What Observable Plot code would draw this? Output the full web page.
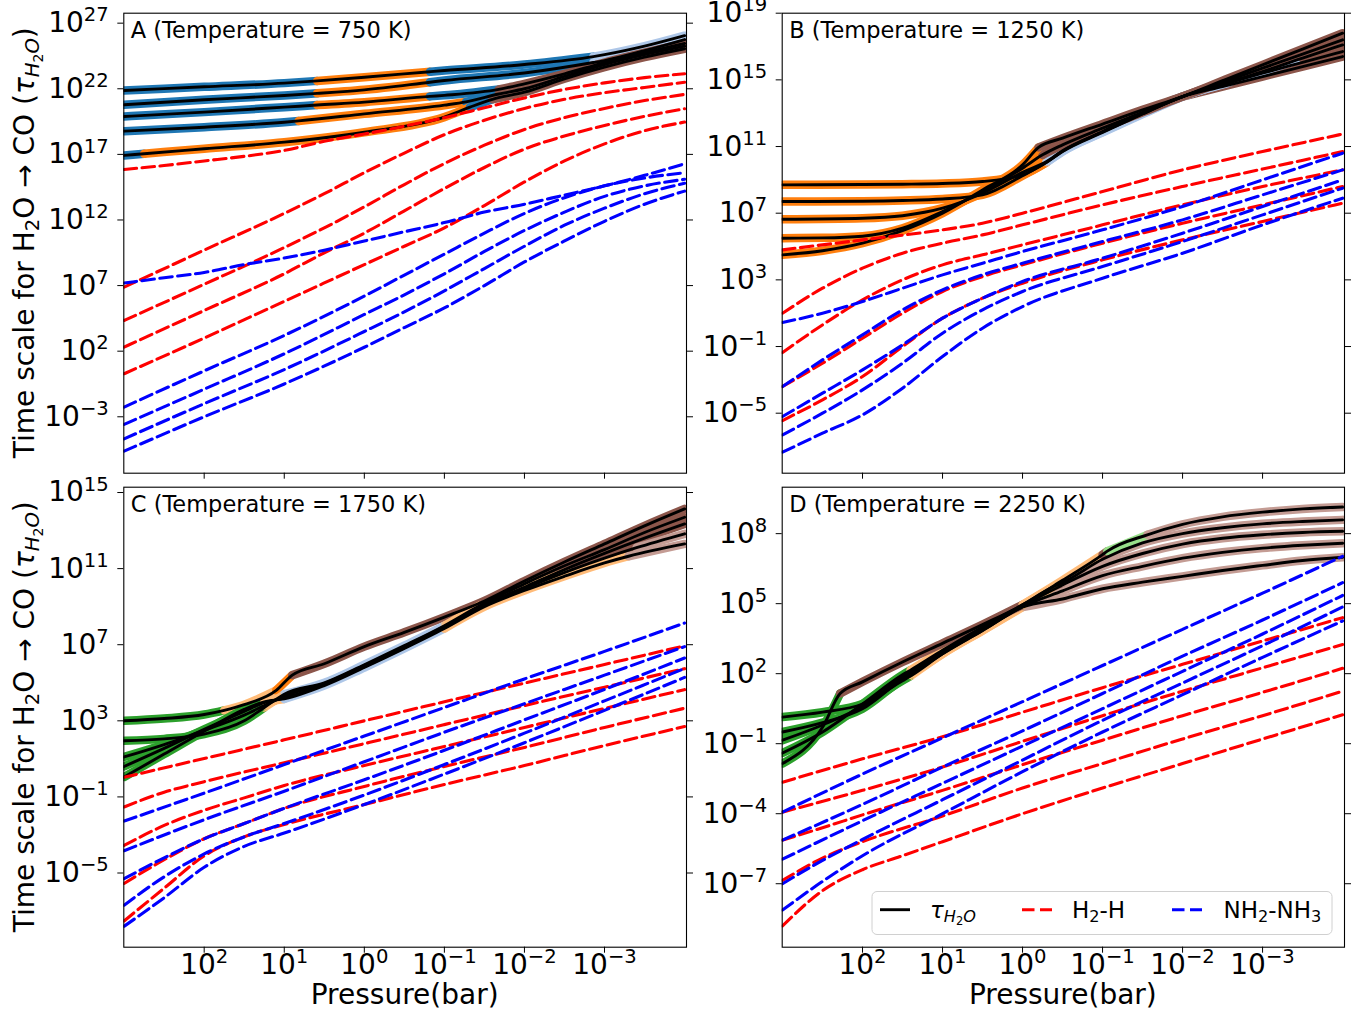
<!DOCTYPE html>
<html><head><meta charset="utf-8">
<script src="https://cdn.jsdelivr.net/npm/d3@7"></script>
<script src="https://cdn.jsdelivr.net/npm/@observablehq/plot@0.6"></script>
<style>
html,body{margin:0;padding:0;background:#fff;}
#fig{position:relative;width:1369px;height:1020px;background:#fff;overflow:hidden;font-family:"DejaVu Sans";}
#fig svg{position:absolute;}
</style></head><body><div id="fig"></div>
<script>
// ---------- shared axis data ----------
const xTickValues = [100, 10, 1, 0.1, 0.01, 0.001];
const xDomainExp = [3.004, -4.024];
const bandColors = {b:"#1f77b4", o:"#ff7f0e", lb:"#aec7e8", br:"#8c564b", pb:"#c49c94", g:"#2ca02c", lo:"#ffbb78", lg:"#98df8a"};

// ---------- Panel A (750 K): [log10 P, log10 tau, regime of following segment] ----------
const A_tau1 = [[3,21.87,"b"],[2,22.15,"b"],[1,22.43,"b"],[0.59,22.6,"o"],[0,22.88,"o"],[-0.82,23.3,"b"],[-1,23.39,"b"],[-2,23.85,"b"],[-2.86,24.45,"lb"],[-3,24.6,"lb"],[-3.5,25.25,"lb"],[-4,26.05,"lb"]];
const A_tau2 = [[3,20.78,"b"],[2,21.16,"b"],[1,21.49,"b"],[0.59,21.65,"o"],[0,21.92,"o"],[-0.82,22.5,"b"],[-1,22.63,"b"],[-2,23.2,"b"],[-2.86,24.0,"lb"],[-3,24.15,"lb"],[-3.5,24.9,"lb"],[-4,25.75,"lb"]];
const A_tau3 = [[3,19.89,"b"],[2,20.22,"b"],[1,20.6,"b"],[0.59,20.76,"o"],[0,20.98,"o"],[-0.82,21.42,"b"],[-1,21.5,"b"],[-1.68,21.95,"br"],[-2,22.38,"br"],[-2.5,23.14,"br"],[-3,24.0,"br"],[-3.5,24.75,"br"],[-4,25.45,"br"]];
const A_tau4 = [[3,18.77,"b"],[2,19.07,"b"],[1,19.45,"b"],[0.82,19.55,"o"],[0,20.09,"o"],[-1,20.75,"o"],[-1.27,21.0,"b"],[-1.68,21.6,"br"],[-2,22.0,"br"],[-2.5,22.94,"br"],[-3,23.85,"br"],[-3.5,24.6,"br"],[-4,25.25,"br"]];
const A_tau5 = [[3,16.92,"b"],[2.75,17.05,"o"],[2,17.43,"o"],[1,17.93,"o"],[0,18.69,"o"],[-1,19.84,"o"],[-1.32,20.6,"b"],[-1.6,21.2,"br"],[-2,21.74,"br"],[-2.5,22.76,"br"],[-3,23.65,"br"],[-3.5,24.41,"br"],[-4,25.05,"br"]];
const A_h1 = [[3,15.85],[2.5,16.15],[2,16.5],[1.5,16.85],[1,17.3],[0.5,18.0],[0,18.55],[-0.5,19.15],[-1,19.8],[-1.5,20.55],[-2,21.3],[-2.5,21.95],[-3,22.45],[-3.5,22.85],[-4,23.14]];
const A_h2 = [[3,6.88],[2,9.7],[1,12.5],[0.5,14.0],[0,15.6],[-0.5,17.1],[-1,18.5],[-1.5,19.6],[-2,20.5],[-2.5,21.2],[-3,21.7],[-3.5,22.1],[-4,22.5]];
const A_h3 = [[3,4.34],[2,7.1],[1,9.9],[0.5,11.4],[0,13.0],[-0.5,14.7],[-1,16.3],[-1.5,17.7],[-2,18.9],[-2.5,19.8],[-3,20.5],[-3.5,21.1],[-4,21.57]];
const A_h4 = [[3,2.31],[2,5.1],[1,7.9],[0.5,9.5],[0,11.0],[-0.5,12.7],[-1,14.4],[-1.5,16.0],[-2,17.4],[-2.5,18.4],[-3,19.2],[-3.5,19.9],[-4,20.48]];
const A_h5 = [[3,0.28],[2,3.0],[1,5.8],[0.5,7.2],[0,8.6],[-0.5,10.0],[-1,11.4],[-1.5,13.1],[-2,14.9],[-2.5,16.5],[-3,17.8],[-3.5,18.8],[-4,19.46]];
const A_n1 = [[3,7.19],[2.5,7.6],[2,8.0],[1.5,8.6],[1,9.1],[0.5,9.7],[0,10.4],[-0.5,11.1],[-1,11.8],[-1.5,12.6],[-2,13.2],[-2.5,13.9],[-3,14.6],[-3.5,15.4],[-4,16.28]];
const A_n2 = [[3,-2.26],[2,0.5],[1,3.2],[0,6.2],[-0.5,7.8],[-1,9.4],[-1.5,11.0],[-2,12.5],[-2.5,13.7],[-3,14.6],[-3.5,15.2],[-4,15.6]];
const A_n3 = [[3,-3.58],[2,-0.9],[1,1.8],[0,4.8],[-0.5,6.3],[-1,7.9],[-1.5,9.6],[-2,11.2],[-2.5,12.6],[-3,13.8],[-3.5,14.6],[-4,15.1]];
const A_n4 = [[3,-4.68],[2,-2.0],[1,0.6],[0,3.5],[-0.5,5.0],[-1,6.6],[-1.5,8.3],[-2,10.0],[-2.5,11.6],[-3,12.9],[-3.5,14.0],[-4,14.8]];
const A_n5 = [[3,-5.62],[2,-3.0],[1,-0.5],[0,2.3],[-0.5,3.8],[-1,5.3],[-1.5,7.0],[-2,8.8],[-2.5,10.4],[-3,11.9],[-3.5,13.2],[-4,14.2]];

// ---------- Panel B (1250 K) ----------
const B_tau1 = [[3,8.70,"o"],[2,8.72,"o"],[1.5,8.74,"o"],[1,8.78,"o"],[0.5,8.9,"o"],[0,9.3,"o"],[-0.3,10.05,"lb"],[-0.5,10.7,"lb"],[-1,11.85,"lb"],[-1.5,12.95,"lb"],[-2,14.0,"br"],[-2.5,14.6,"br"],[-3,15.2,"br"],[-3.5,15.8,"br"],[-4,16.4,"br"]];
const B_tau2 = [[3,7.70,"o"],[2,7.72,"o"],[1.5,7.76,"o"],[1,7.85,"o"],[0.5,8.1,"o"],[0,9.25,"o"],[-0.3,10.05,"lb"],[-0.5,10.72,"lb"],[-1,11.87,"lb"],[-1.5,12.97,"lb"],[-2,14.0,"lb"],[-2.6,14.85,"br"],[-3,15.4,"br"],[-3.5,16.05,"br"],[-4,16.7,"br"]];
const B_tau3 = [[3,6.64,"o"],[2,6.7,"o"],[1.5,6.85,"o"],[1,7.3,"o"],[0.5,8.2,"o"],[0,9.45,"o"],[-0.3,10.1,"lb"],[-0.5,10.75,"lb"],[-1,11.9,"lb"],[-1.5,13.0,"lb"],[-2,14.0,"lb"],[-2.5,14.75,"lb"],[-3,15.5,"lb"],[-3.5,16.3,"br"],[-4,17.1,"br"]];
const B_tau4 = [[3,5.5,"o"],[2.5,5.52,"o"],[2,5.62,"o"],[1.5,6.1,"o"],[1,7.1,"o"],[0.5,8.3,"o"],[0,9.7,"o"],[-0.25,10.5,"br"],[-0.5,11.1,"br"],[-1,12.1,"br"],[-1.5,13.05,"br"],[-2,14.0,"br"],[-2.5,14.85,"br"],[-3,15.7,"br"],[-3.5,16.55,"br"],[-4,17.4,"br"]];
const B_tau5 = [[3,4.5,"o"],[2.5,4.75,"o"],[2,5.2,"o"],[1.5,5.95,"o"],[1,7.0,"o"],[0.5,8.4,"o"],[0,9.9,"o"],[-0.2,10.95,"br"],[-0.5,11.5,"br"],[-1,12.35,"br"],[-1.5,13.2,"br"],[-2,14.0,"br"],[-2.5,14.95,"br"],[-3,15.9,"br"],[-3.5,16.85,"br"],[-4,17.8,"br"]];
const B_h1 = [[3,4.8],[2,5.4],[1,6.0],[0.5,6.4],[0,7.0],[-1,8.3],[-2,9.6],[-3,10.7],[-4,11.75]];
const B_h2 = [[3,1.0],[2.5,2.5],[2,3.7],[1.5,4.6],[1,5.2],[0.5,5.7],[0,6.3],[-1,7.5],[-2,8.6],[-3,9.65],[-4,10.7]];
const B_h3 = [[3,-1.36],[2.5,0.3],[2,1.8],[1.5,3.0],[1,3.9],[0.5,4.5],[0,5.1],[-1,6.3],[-2,7.5],[-3,8.6],[-4,9.6]];
const B_h4 = [[3,-3.4],[2.5,-2.0],[2,-0.5],[1.5,1.0],[1,2.3],[0.5,3.2],[0,3.9],[-1,5.2],[-2,6.4],[-3,7.5],[-4,8.6]];
const B_h5 = [[3,-5.44],[2.5,-4.2],[2,-2.8],[1.5,-1.0],[1,0.7],[0.5,1.9],[0,2.8],[-1,4.2],[-2,5.4],[-3,6.5],[-4,7.6]];
const B_n1 = [[3,0.44],[2.5,1.0],[2,1.7],[1.5,2.5],[1,3.3],[0.5,4.0],[0,4.7],[-1,6.0],[-2,7.4],[-3,9.0],[-4,10.6]];
const B_n2 = [[3,-3.4],[2.5,-1.8],[2,-0.3],[1.5,1.2],[1,2.4],[0.5,3.3],[0,4.0],[-1,5.3],[-2,6.6],[-3,8.1],[-4,9.6]];
const B_n3 = [[3,-5.2],[2.5,-3.8],[2,-2.4],[1.5,-0.9],[1,0.7],[0.5,1.9],[0,2.9],[-1,4.3],[-2,5.8],[-3,7.4],[-4,9.0]];
const B_n4 = [[3,-6.3],[2.5,-5.0],[2,-3.6],[1.5,-2.0],[1,-0.2],[0.5,1.2],[0,2.3],[-1,3.8],[-2,5.3],[-3,6.9],[-4,8.5]];
const B_n5 = [[3,-7.34],[2.5,-6.2],[2,-5.1],[1.5,-3.5],[1,-1.6],[0.5,0.1],[0,1.4],[-1,3.1],[-2,4.6],[-3,6.3],[-4,7.9]];

// ---------- Panel C (1750 K) ----------
const C_tau1 = [[3,3.0,"g"],[2.5,3.12,"g"],[2,3.33,"g"],[1.75,3.55,"lo"],[1.5,3.85,"lo"],[1.1,4.6,"o"],[0.9,5.4,"br"],[0.5,6.0,"br"],[0,6.9,"br"],[-0.5,7.65,"br"],[-1,8.45,"br"],[-1.5,9.3,"br"],[-2,10.35,"br"],[-2.5,11.35,"br"],[-3,12.3,"br"],[-3.5,13.25,"br"],[-4,14.14,"br"]];
const C_tau2 = [[3,1.95,"g"],[2.5,2.05,"g"],[2,2.3,"g"],[1.5,3.0,"g"],[1.25,3.7,"lo"],[1,4.4,"lb"],[0.5,5.0,"lb"],[0,5.95,"lb"],[-0.5,6.95,"lb"],[-1,8.0,"lo"],[-1.46,9.1,"br"],[-2,10.2,"br"],[-2.5,11.15,"br"],[-3,12.0,"br"],[-3.5,12.9,"br"],[-4,13.7,"br"]];
const C_tau3 = [[3,1.1,"g"],[2.5,1.75,"g"],[2,2.5,"g"],[1.5,3.3,"g"],[1.25,3.8,"lo"],[1,4.3,"lb"],[0.5,4.95,"lb"],[0,5.9,"lb"],[-0.5,6.9,"lb"],[-1,7.95,"lo"],[-1.5,9.1,"lo"],[-2.04,10.1,"br"],[-2.5,10.95,"br"],[-3,11.8,"br"],[-3.5,12.6,"br"],[-4,13.35,"br"]];
const C_tau4 = [[3,0.6,"g"],[2.5,1.55,"g"],[2,2.55,"g"],[1.5,3.5,"g"],[1.25,3.95,"lo"],[1,4.2,"lb"],[0.5,4.9,"lb"],[0,5.85,"lb"],[-0.5,6.85,"lb"],[-1,7.9,"lo"],[-1.5,9.05,"lo"],[-2,9.95,"lo"],[-2.63,11.0,"br"],[-3,11.55,"br"],[-3.4,12.1,"pb"],[-4,12.83,"pb"]];
const C_tau5 = [[3,0.05,"g"],[2.5,1.25,"g"],[2,2.45,"g"],[1.5,3.6,"g"],[1.25,4.0,"lo"],[1,4.15,"lb"],[0.5,4.85,"lb"],[0,5.8,"lb"],[-0.5,6.8,"lb"],[-1,7.85,"lo"],[-1.5,9.0,"lo"],[-2,9.85,"lo"],[-2.5,10.6,"lo"],[-3,11.3,"lo"],[-3.3,11.65,"pb"],[-4,12.3,"pb"]];
const C_h1 = [[3,0.03],[2,1.02],[1,2.0],[0,3.0],[-1,4.0],[-2,4.98],[-3,5.96],[-4,6.94]];
const C_h2 = [[3,-1.53],[2.5,-0.75],[2,-0.2],[1,0.8],[0,1.8],[-1,2.8],[-2,3.8],[-3,4.77],[-4,5.74]];
const C_h3 = [[3,-3.55],[2.5,-2.5],[2,-1.7],[1.5,-1.05],[1,-0.4],[0,0.65],[-1,1.65],[-2,2.65],[-3,3.65],[-4,4.64]];
const C_h4 = [[3,-5.55],[2.5,-4.3],[2,-3.2],[1.5,-2.4],[1,-1.6],[0,-0.45],[-1,0.6],[-2,1.6],[-3,2.65],[-4,3.66]];
const C_h5 = [[3,-7.52],[2.5,-5.8],[2,-4.1],[1.5,-3.1],[1,-2.45],[0,-1.4],[-1,-0.35],[-2,0.65],[-3,1.7],[-4,2.7]];
const C_n1 = [[3,-2.27],[2,-0.8],[1,0.7],[0,2.2],[-1,3.7],[-2,5.2],[-3,6.65],[-4,8.14]];
const C_n2 = [[3,-3.83],[2.5,-3.0],[2,-2.2],[1,-0.7],[0,0.85],[-1,2.4],[-2,3.9],[-3,5.4],[-4,6.9]];
const C_n3 = [[3,-5.3],[2.5,-4.2],[2,-3.2],[1.5,-2.4],[1,-1.6],[0,-0.1],[-1,1.45],[-2,3.05],[-3,4.65],[-4,6.3]];
const C_n4 = [[3,-6.69],[2.5,-5.2],[2,-4.0],[1.5,-3.1],[1,-2.4],[0,-0.9],[-1,0.7],[-2,2.35],[-3,4.05],[-4,5.75]];
const C_n5 = [[3,-7.8],[2.5,-6.3],[2,-4.7],[1.5,-3.6],[1,-2.9],[0,-1.4],[-1,0.2],[-2,1.85],[-3,3.55],[-4,5.28]];

// ---------- Panel D (2250 K) ----------
const D_tau1 = [[3,0.14,"g"],[2.5,0.35,"g"],[2,0.7,"g"],[1.5,1.7,"g"],[1.4,1.9,"lo"],[1,2.85,"lo"],[0.5,3.85,"lo"],[0,4.85,"pb"],[-0.5,5.2,"pb"],[-1,5.64,"pb"],[-1.5,5.92,"pb"],[-2,6.17,"pb"],[-2.5,6.42,"pb"],[-3,6.64,"pb"],[-3.5,6.85,"pb"],[-4,6.99,"pb"]];
const D_tau2 = [[3,-0.5,"g"],[2.5,-0.1,"g"],[2,0.5,"g"],[1.5,1.75,"g"],[1.4,1.95,"lo"],[1,2.85,"lo"],[0.5,3.85,"lo"],[0,4.87,"pb"],[-0.5,5.55,"pb"],[-1,6.2,"pb"],[-1.5,6.6,"pb"],[-2,6.95,"pb"],[-2.5,7.2,"pb"],[-3,7.38,"pb"],[-3.5,7.5,"pb"],[-4,7.59,"pb"]];
const D_tau3 = [[3,-0.85,"g"],[2.5,-0.2,"g"],[2,0.6,"g"],[1.5,1.85,"g"],[1.4,2.05,"lo"],[1,2.9,"lo"],[0.5,3.9,"lo"],[0,4.9,"pb"],[-0.5,5.8,"pb"],[-1,6.6,"pb"],[-1.5,7.15,"pb"],[-2,7.55,"pb"],[-2.5,7.8,"pb"],[-3,7.95,"pb"],[-3.5,8.05,"pb"],[-4,8.1,"pb"]];
const D_tau4 = [[3,-1.4,"g"],[2.5,-0.5,"g"],[2,0.7,"g"],[1.5,1.95,"g"],[1.4,2.15,"lo"],[1,3.0,"lo"],[0.5,4.0,"lo"],[0,4.95,"lo"],[-0.4,5.75,"br"],[-0.5,5.9,"pb"],[-1,6.9,"pb"],[-1.5,7.6,"pb"],[-2,8.0,"pb"],[-2.5,8.25,"pb"],[-3,8.42,"pb"],[-3.5,8.52,"pb"],[-4,8.59,"pb"]];
const D_tau5 = [[3,-1.85,"g"],[2.5,-0.3,"g"],[2.28,1.15,"br"],[2,1.65,"br"],[1.5,2.5,"br"],[1,3.3,"br"],[0.5,4.1,"br"],[0,4.95,"lo"],[-0.5,6.0,"lo"],[-1,7.1,"br"],[-1.06,7.25,"lg"],[-1.56,7.95,"pb"],[-2,8.4,"pb"],[-2.5,8.72,"pb"],[-3,8.92,"pb"],[-3.5,9.06,"pb"],[-4,9.14,"pb"]];
const D_h1 = [[3,-2.65],[2,-1.65],[1,-0.7],[0,0.35],[-1,1.4],[-2,2.4],[-3,3.4],[-4,4.4]];
const D_h2 = [[3,-3.93],[2,-3.0],[1,-2.0],[0,-0.9],[-1,0.2],[-2,1.25],[-3,2.25],[-4,3.25]];
const D_h3 = [[3,-5.13],[2.5,-4.6],[2,-4.05],[1,-3.0],[0,-1.9],[-1,-0.85],[-2,0.2],[-3,1.2],[-4,2.23]];
const D_h4 = [[3,-6.86],[2.5,-5.9],[2,-5.2],[1,-4.1],[0,-2.9],[-1,-1.85],[-2,-0.8],[-3,0.2],[-4,1.25]];
const D_h5 = [[3,-8.81],[2.5,-7.3],[2,-6.4],[1.5,-5.8],[1,-5.2],[0,-4.0],[-1,-2.9],[-2,-1.85],[-3,-0.8],[-4,0.24]];
const D_n1 = [[3,-3.93],[2,-2.3],[1,-0.75],[0,0.8],[-1,2.35],[-2,3.9],[-3,5.45],[-4,7.03]];
const D_n2 = [[3,-5.13],[2,-3.6],[1,-2.0],[0,-0.45],[-1,1.15],[-2,2.75],[-3,4.3],[-4,5.9]];
const D_n3 = [[3,-5.95],[2,-4.3],[1,-2.7],[0,-1.1],[-1,0.5],[-2,2.1],[-3,3.7],[-4,5.35]];
const D_n4 = [[3,-7.0],[2.5,-6.0],[2,-5.1],[1,-3.4],[0,-1.7],[-1,0],[-2,1.6],[-3,3.2],[-4,4.86]];
const D_n5 = [[3,-8.13],[2.5,-6.9],[2,-5.8],[1,-4.0],[0,-2.2],[-1,-0.5],[-2,1.1],[-3,2.7],[-4,4.26]];

// ---------- y axis settings ----------
const A_yExp = [-7.3, 27.76], A_yTicks = [-3, 2, 7, 12, 17, 22, 27];
const B_yExp = [-8.6, 19.0],  B_yTicks = [-5, -1, 3, 7, 11, 15, 19];
const C_yExp = [-8.9, 15.28], C_yTicks = [-5, -1, 3, 7, 11, 15];
const D_yExp = [-9.72, 9.99], D_yTicks = [-7, -4, -1, 2, 5, 8];

// ---------- rendering ----------
const FONT = "DejaVu Sans";
const DASH = "12.5,5.5";
const px = d => 10 ** d[0], py = d => 10 ** d[1];
const fmt = v => "10^" + Math.round(Math.log10(v));

function runsOf(curve) {
  const out = [];
  let s = 0;
  for (let i = 1; i < curve.length; i++) {
    if (i === curve.length - 1 || curve[i][2] !== curve[s][2]) {
      out.push({color: bandColors[curve[s][2]], pts: curve.slice(s, i + 1)});
      s = i;
    }
  }
  return out;
}

function rich(parent, parts, size) {
  let shift = 0;
  for (const [s, k = ""] of parts) {
    let target = 0, fs = size;
    if (k.includes("subsub")) { target = 0.34 * size; fs = 0.5 * size; }
    else if (k.includes("sub")) { target = 0.2 * size; fs = 0.7 * size; }
    const t = parent.append("tspan").text(s).attr("font-size", fs);
    if (k.includes("it")) t.attr("font-style", "italic");
    if (target !== shift) { t.attr("dy", target - shift); shift = target; }
  }
}

function makePanel(cfg) {
  const marks = [];
  for (const c of cfg.taus) for (const r of runsOf(c))
    marks.push(Plot.line(r.pts, {x: px, y: py, stroke: r.color, strokeWidth: 8.5, strokeLinecap: "round", curve: "monotone-x", clip: true}));
  for (const c of cfg.taus)
    marks.push(Plot.line(c, {x: px, y: py, stroke: "black", strokeWidth: 2.9, curve: "monotone-x", clip: true}));
  for (const c of cfg.reds)
    marks.push(Plot.line(c, {x: px, y: py, stroke: "#ff0000", strokeWidth: 3.1, strokeDasharray: DASH, curve: "monotone-x", clip: true}));
  for (const c of cfg.blues)
    marks.push(Plot.line(c, {x: px, y: py, stroke: "#0000ff", strokeWidth: 3.1, strokeDasharray: DASH, curve: "monotone-x", clip: true}));
  marks.push(Plot.frame({stroke: "black", strokeWidth: 1.1}));
  marks.push(Plot.axisX({ticks: xTickValues, tickSize: 6, tickPadding: 1, tickFormat: cfg.xLabels ? fmt : () => "", label: null}));
  marks.push(Plot.axisY({ticks: cfg.yTicks.map(e => 10 ** e), anchor: "left", tickSize: 6, tickPadding: 9, tickFormat: fmt, label: null}));
  marks.push(Plot.axisY({ticks: cfg.yTicks.map(e => 10 ** e), anchor: "right", tickSize: 6, tickFormat: () => "", label: null}));
  marks.push(Plot.text([cfg.title], {text: d => d, frameAnchor: "top-left", dx: 7, dy: 24.5, lineAnchor: "bottom", textAnchor: "start", fontSize: 22.5, fontFamily: FONT}));

  const svg = Plot.plot({
    width: cfg.width, height: cfg.height,
    marginLeft: cfg.ml, marginRight: cfg.mr, marginTop: cfg.mt, marginBottom: cfg.mb,
    x: {type: "log", domain: xDomainExp.map(e => 10 ** e)},
    y: {type: "log", domain: cfg.yExp.map(e => 10 ** e)},
    style: {fontFamily: FONT, fontSize: "28px", color: "black", background: "white", overflow: "visible"},
    marks
  });
  svg.style.left = cfg.left + "px";
  svg.style.top = cfg.top + "px";
  const S = d3.select(svg);
  S.selectAll("text").each(function () {
    const m = /^10\^(-?\d+)$/.exec(this.textContent);
    if (!m) return;
    const sel = d3.select(this).text(null);
    sel.append("tspan").text("10");
    sel.append("tspan").attr("dy", "-0.55em").attr("font-size", "0.7em").text(m[1].replace("-", "\u2212"));
  });
  const fw = cfg.width - cfg.ml - cfg.mr, fh = cfg.height - cfg.mt - cfg.mb;
  if (cfg.yLabel) {
    const t = S.append("text").attr("transform", `translate(33.5,${cfg.mt + fh / 2}) rotate(-90)`)
      .attr("text-anchor", "middle").attr("font-family", FONT).attr("font-size", 28).attr("fill", "black");
    rich(t, [["Time scale for H"], ["2", "sub"], ["O \u2192 CO ("], ["\u03c4", "it"], ["H", "sub it"], ["2", "subsub"], ["O", "sub it"], [")"]], 28);
  }
  if (cfg.xLabels) {
    S.append("text").attr("x", cfg.ml + fw / 2).attr("y", 524).attr("text-anchor", "middle")
      .attr("font-family", FONT).attr("font-size", 28).attr("fill", "black").text("Pressure(bar)");
  }
  if (cfg.legend) {
    const g = S.append("g").attr("font-family", FONT).attr("fill", "black").attr("text-anchor", "start");
    g.append("rect").attr("x", 172).attr("y", 411.5).attr("width", 460).attr("height", 43).attr("rx", 5)
      .attr("fill", "white").attr("fill-opacity", 0.85).attr("stroke", "#d0d0d0").attr("stroke-width", 1);
    const ly = 429.7, lb = 437.5;
    g.append("line").attr("x1", 180).attr("x2", 210).attr("y1", ly).attr("y2", ly).attr("stroke", "black").attr("stroke-width", 2.9);
    rich(g.append("text").attr("x", 230).attr("y", lb).attr("text-anchor", "start"), [["\u03c4", "it"], ["H", "sub it"], ["2", "subsub"], ["O", "sub it"]], 23);
    g.append("line").attr("x1", 322).attr("x2", 352).attr("y1", ly).attr("y2", ly).attr("stroke", "#ff0000").attr("stroke-width", 3.1).attr("stroke-dasharray", DASH);
    rich(g.append("text").attr("x", 372).attr("y", lb).attr("text-anchor", "start"), [["H"], ["2", "sub"], ["-H"]], 23);
    g.append("line").attr("x1", 472).attr("x2", 502).attr("y1", ly).attr("y2", ly).attr("stroke", "#0000ff").attr("stroke-width", 3.1).attr("stroke-dasharray", DASH);
    rich(g.append("text").attr("x", 523.5).attr("y", lb).attr("text-anchor", "start"), [["NH"], ["2", "sub"], ["-NH"], ["3", "sub"]], 23);
  }
  document.getElementById("fig").appendChild(svg);
}

makePanel({title: "A (Temperature = 750 K)", left: 0, top: 0, width: 700, height: 480, ml: 123.3, mr: 14, mt: 12.7, mb: 7.3,
  yExp: A_yExp, yTicks: A_yTicks, taus: [A_tau1, A_tau2, A_tau3, A_tau4, A_tau5],
  reds: [A_h1, A_h2, A_h3, A_h4, A_h5], blues: [A_n1, A_n2, A_n3, A_n4, A_n5], xLabels: false, yLabel: true});
makePanel({title: "B (Temperature = 1250 K)", left: 700, top: 0, width: 669, height: 480, ml: 81.7, mr: 25, mt: 12.7, mb: 7.3,
  yExp: B_yExp, yTicks: B_yTicks, taus: [B_tau1, B_tau2, B_tau3, B_tau4, B_tau5],
  reds: [B_h1, B_h2, B_h3, B_h4, B_h5], blues: [B_n1, B_n2, B_n3, B_n4, B_n5], xLabels: false, yLabel: false});
makePanel({title: "C (Temperature = 1750 K)", left: 0, top: 480, width: 700, height: 540, ml: 123.3, mr: 14, mt: 6.7, mb: 73.3,
  yExp: C_yExp, yTicks: C_yTicks, taus: [C_tau1, C_tau2, C_tau3, C_tau4, C_tau5],
  reds: [C_h1, C_h2, C_h3, C_h4, C_h5], blues: [C_n1, C_n2, C_n3, C_n4, C_n5], xLabels: true, yLabel: true});
makePanel({title: "D (Temperature = 2250 K)", left: 700, top: 480, width: 669, height: 540, ml: 81.7, mr: 25, mt: 6.7, mb: 73.3,
  yExp: D_yExp, yTicks: D_yTicks, taus: [D_tau1, D_tau2, D_tau3, D_tau4, D_tau5],
  reds: [D_h1, D_h2, D_h3, D_h4, D_h5], blues: [D_n1, D_n2, D_n3, D_n4, D_n5], xLabels: true, yLabel: false, legend: true});
</script></body></html>
